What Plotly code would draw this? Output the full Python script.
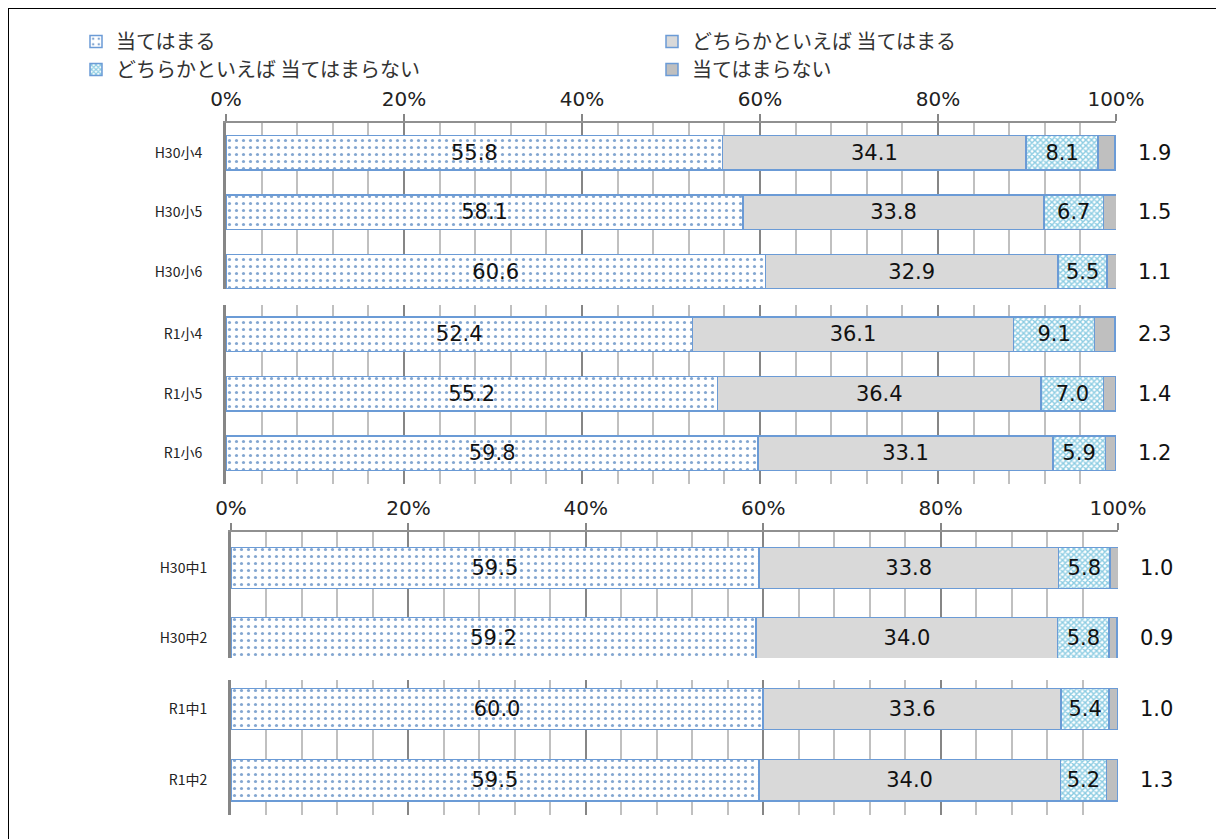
import plotly.graph_objects as go

categories = ["H30小4", "H30小5", "H30小6", "R1小4", "R1小5", "R1小6",
              "H30中1", "H30中2", "R1中1", "R1中2"]
series_names = ["当てはまる", "どちらかといえば 当てはまる",
                "どちらかといえば 当てはまらない", "当てはまらない"]
apply_yes = [55.8, 58.1, 60.6, 52.4, 55.2, 59.8, 59.5, 59.2, 60.0, 59.5]
apply_some = [34.1, 33.8, 32.9, 36.1, 36.4, 33.1, 33.8, 34.0, 33.6, 34.0]
apply_little = [8.1, 6.7, 5.5, 9.1, 7.0, 5.9, 5.8, 5.8, 5.4, 5.2]
apply_no = [1.9, 1.5, 1.1, 2.3, 1.4, 1.2, 1.0, 0.9, 1.0, 1.3]
tick_vals = [0, 20, 40, 60, 80, 100]
tick_text = ["0%", "20%", "40%", "60%", "80%", "100%"]

groups = [(0, 3), (3, 6), (6, 8), (8, 10)]
W, H = 1224, 839
OX, OY = 8, 8  # page offset of the figure in the browser

def px_(x):
    return (x - OX) / W

def py(y):
    return 1 - (y - OY) / H

x_domains = [[px_(226), px_(1116)], [px_(226), px_(1116)],
             [px_(231), px_(1118)], [px_(231), px_(1118)]]
y_domains = [[py(289), py(123)], [py(484), py(305)],
             [py(658), py(532)], [py(815), py(680)]]
y_ranges = [[2.29, -0.5], [2.52, -0.49], [1.286, -0.514], [1.49, -0.41]]

EDGE = "#6b9bd6"
styles = [
    dict(color="white", pattern=dict(shape=".", fgcolor="#4f81bd", bgcolor="white",
                                      size=7, solidity=0.16, fgopacity=0.7)),
    dict(color="#d9d9d9"),
    dict(color="white", pattern=dict(shape="x", fgcolor="#1a9ac6", bgcolor="white",
                                      size=4, solidity=0.6)),
    dict(color="#bfbfbf"),
]
legend_of = ["legend", "legend2", "legend3", "legend4"]
legend_pos = [(76, 22), (652, 22), (76, 50), (652, 50)]
values = [apply_yes, apply_some, apply_little, apply_no]
TXT = dict(family="DejaVu Sans", size=21, color="#111111")

fig = go.Figure()
for gi, (a, b) in enumerate(groups):
    sfx = "" if gi == 0 else str(gi + 1)
    for si in range(4):
        vals = values[si][a:b]
        fig.add_trace(go.Bar(
            y=categories[a:b], x=vals, orientation="h",
            name=series_names[si],
            marker=dict(**styles[si], line=dict(color=EDGE, width=1.5)),
            text=[f"{v:.1f}" for v in vals] if si < 3 else None,
            textposition="inside" if si < 3 else "none",
            insidetextanchor="middle", textangle=0, constraintext="none",
            textfont=TXT,
            xaxis="x" + sfx, yaxis="y" + sfx,
            legend=legend_of[si], showlegend=(gi == 0),
            hoverinfo="skip",
        ))
    for c, v in zip(categories[a:b], apply_no[a:b]):
        fig.add_annotation(x=100, y=c, xref="x" + sfx, yref="y" + sfx, xshift=20,
                           text=f"{v:.1f}", showarrow=False, xanchor="left", font=TXT)

layout = dict(
    width=W, height=H, barmode="stack", bargap=0.42,
    margin=dict(l=0, r=0, t=0, b=0, pad=0, autoexpand=False),
    paper_bgcolor="white", plot_bgcolor="white",
    shapes=[dict(type="rect", xref="paper", yref="paper",
                 x0=px_(8), x1=px_(1221), y0=-0.02, y1=py(8),
                 line=dict(color="black", width=2), fillcolor="rgba(0,0,0,0)")],
)
for li, (lx, ly) in enumerate(legend_pos):
    layout[legend_of[li]] = dict(
        x=px_(lx), y=py(ly), xanchor="left", yanchor="top", orientation="v",
        font=dict(family="Noto Sans CJK JP", size=20, color="#333333"),
        bgcolor="rgba(0,0,0,0)", itemwidth=30)
for gi in range(4):
    sfx = "" if gi == 0 else str(gi + 1)
    labeled = gi in (0, 2)
    layout["xaxis" + sfx] = dict(
        domain=x_domains[gi], range=[0, 100], anchor="y" + sfx, side="top",
        tickvals=tick_vals, ticktext=tick_text, showticklabels=labeled,
        ticks="outside" if labeled else "", ticklen=7, tickwidth=2, tickcolor="#868686",
        tickfont=dict(family="DejaVu Sans", size=20, color="#222222"),
        ticklabelstandoff=0,
        showline=labeled, linecolor="#909090", linewidth=2,
        showgrid=True, gridcolor="#868686", gridwidth=2, zeroline=False,
        minor=dict(dtick=4, tick0=0, showgrid=True, gridcolor="#c0c0c0", gridwidth=2, ticks=""),
        automargin=False, fixedrange=True,
    )
    a, b = groups[gi]
    layout["yaxis" + sfx] = dict(
        domain=y_domains[gi], range=y_ranges[gi], anchor="x" + sfx,
        type="category", categoryorder="array", categoryarray=categories[a:b],
        showline=True, linecolor="#868686", linewidth=3, showgrid=False, zeroline=False,
        ticks="", ticklabelstandoff=18,
        tickfont=dict(family="Noto Sans CJK JP", size=14, color="#222222"),
        automargin=False, fixedrange=True,
    )
fig.update_layout(**layout)
fig.write_html("out.html")
